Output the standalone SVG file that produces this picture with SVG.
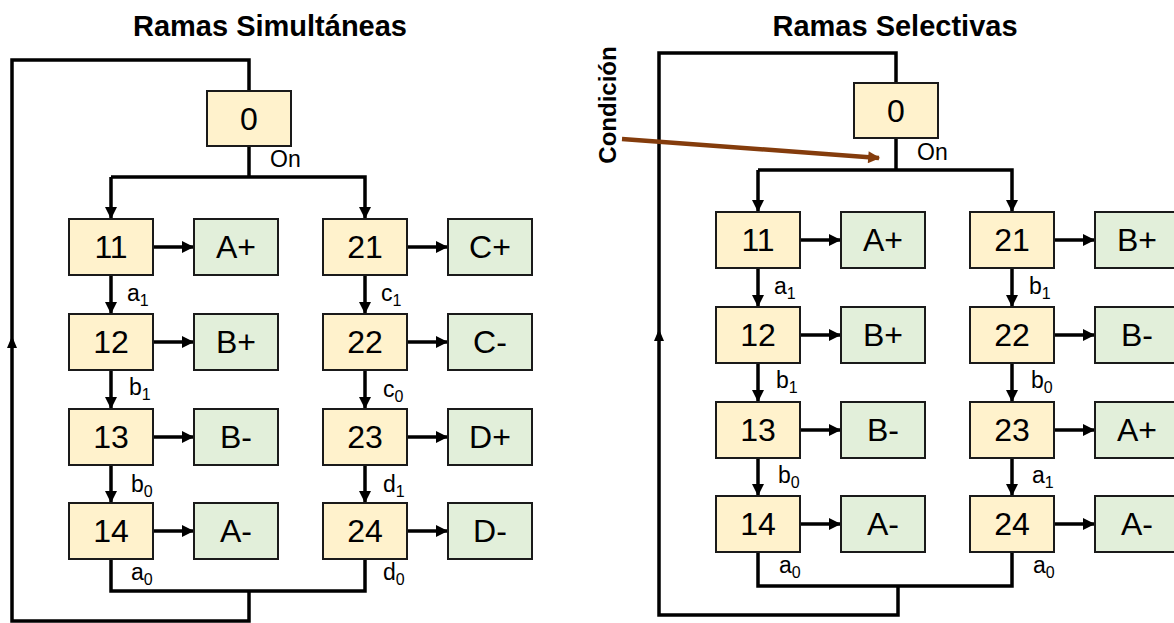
<svg xmlns="http://www.w3.org/2000/svg" width="1174" height="623" viewBox="0 0 1174 623">
<defs>
<style>
.st{fill:#FFF2CC;stroke:#1a1a1a;stroke-width:2}
.ac{fill:#E2EFDA;stroke:#1a1a1a;stroke-width:2}
.bt{font-family:"Liberation Sans",Arial,sans-serif;font-size:32px;text-anchor:middle;fill:#000}
.lb{font-family:"Liberation Sans",Arial,sans-serif;font-size:23px;fill:#000}
.sub{font-size:16px}
.ttl{font-family:"Liberation Sans",Arial,sans-serif;font-size:29px;font-weight:bold;text-anchor:middle;fill:#000}
.ln{fill:none;stroke:#000;stroke-width:3.5}
.ar{fill:none;stroke:#000;stroke-width:3.5;marker-end:url(#ah)}
</style>
<marker id="ah" markerUnits="userSpaceOnUse" viewBox="0 0 10 10" refX="10" refY="5" markerWidth="12" markerHeight="12" orient="auto">
<path d="M0,0 L10,5 L0,10 z" fill="#000"/>
</marker>
<marker id="ahb" markerUnits="userSpaceOnUse" viewBox="0 0 10 10" refX="9" refY="5" markerWidth="16" markerHeight="12" orient="auto">
<path d="M0,0 L10,5 L0,10 z" fill="#843C0C"/>
</marker>
</defs>
<rect width="1174" height="623" fill="#fff"/>

<text class="ttl" x="270" y="36">Ramas Simultáneas</text>
<text class="ttl" x="895" y="36">Ramas Selectivas</text>

<g id="connectors">
<!-- left diagram -->
<path class="ln" d="M249,91 V60 H12 V621 H249 V591"/>
<polygon points="12,336 7,348 17,348" fill="#000"/>
<path class="ln" d="M249,146 V177"/>
<path class="ar" d="M111,177 H365 V219"/>
<path class="ar" d="M111,177 V219"/>
<path class="ar" d="M111,275 V314"/>
<path class="ar" d="M111,370 V409"/>
<path class="ar" d="M111,465 V503"/>
<path class="ar" d="M365,275 V314"/>
<path class="ar" d="M365,370 V409"/>
<path class="ar" d="M365,465 V503"/>
<path class="ln" d="M111,559 V591 H365 V559"/>
<path class="ar" d="M153,247 H194"/>
<path class="ar" d="M153,342 H194"/>
<path class="ar" d="M153,437 H194"/>
<path class="ar" d="M153,531 H194"/>
<path class="ar" d="M407,247 H448"/>
<path class="ar" d="M407,342 H448"/>
<path class="ar" d="M407,437 H448"/>
<path class="ar" d="M407,531 H448"/>
<!-- right diagram -->
<path class="ln" d="M896,83 V53 H659 V615 H898 V586"/>
<polygon points="659,329 654,341 664,341" fill="#000"/>
<path class="ln" d="M896,138 V170"/>
<path class="ar" d="M758,170 H1012 V212"/>
<path class="ar" d="M758,170 V212"/>
<path class="ar" d="M758,268 V307"/>
<path class="ar" d="M758,363 V402"/>
<path class="ar" d="M758,458 V496"/>
<path class="ar" d="M1012,268 V307"/>
<path class="ar" d="M1012,363 V402"/>
<path class="ar" d="M1012,458 V496"/>
<path class="ln" d="M758,552 V586 H1012 V552"/>
<path class="ar" d="M800,240 H841"/>
<path class="ar" d="M800,335 H841"/>
<path class="ar" d="M800,430 H841"/>
<path class="ar" d="M800,524 H841"/>
<path class="ar" d="M1054,240 H1095"/>
<path class="ar" d="M1054,335 H1095"/>
<path class="ar" d="M1054,430 H1095"/>
<path class="ar" d="M1054,524 H1095"/>
<!-- condition arrow -->
<path d="M622,139 L879,158" fill="none" stroke="#843C0C" stroke-width="4.5" marker-end="url(#ahb)"/>
</g>

<g id="labels">
<text class="lb" x="270" y="167">On</text>
<text class="lb" x="127" y="301">a<tspan class="sub" dy="5">1</tspan></text>
<text class="lb" x="129" y="395">b<tspan class="sub" dy="5">1</tspan></text>
<text class="lb" x="131" y="492">b<tspan class="sub" dy="5">0</tspan></text>
<text class="lb" x="131" y="580">a<tspan class="sub" dy="5">0</tspan></text>
<text class="lb" x="381" y="301">c<tspan class="sub" dy="5">1</tspan></text>
<text class="lb" x="383" y="397">c<tspan class="sub" dy="5">0</tspan></text>
<text class="lb" x="383" y="492">d<tspan class="sub" dy="5">1</tspan></text>
<text class="lb" x="383" y="580">d<tspan class="sub" dy="5">0</tspan></text>
<text class="lb" x="917" y="160">On</text>
<text class="lb" x="774" y="294">a<tspan class="sub" dy="5">1</tspan></text>
<text class="lb" x="776" y="388">b<tspan class="sub" dy="5">1</tspan></text>
<text class="lb" x="778" y="483">b<tspan class="sub" dy="5">0</tspan></text>
<text class="lb" x="779" y="573">a<tspan class="sub" dy="5">0</tspan></text>
<text class="lb" x="1029" y="294">b<tspan class="sub" dy="5">1</tspan></text>
<text class="lb" x="1031" y="388">b<tspan class="sub" dy="5">0</tspan></text>
<text class="lb" x="1032" y="483">a<tspan class="sub" dy="5">1</tspan></text>
<text class="lb" x="1033" y="573">a<tspan class="sub" dy="5">0</tspan></text>
<text transform="translate(616,105) rotate(-90)" font-family="'Liberation Sans',Arial,sans-serif" font-size="24" font-weight="bold" text-anchor="middle">Condición</text>
</g>

<!-- left nodes -->
<g id="L0"><rect class="st" x="207" y="91" width="84" height="55"/><text class="bt" x="249" y="130">0</text></g>
<g id="L11"><rect class="st" x="69" y="219" width="84" height="56"/><text class="bt" x="111" y="258">11</text></g>
<g id="L12"><rect class="st" x="69" y="314" width="84" height="56"/><text class="bt" x="111" y="353">12</text></g>
<g id="L13"><rect class="st" x="69" y="409" width="84" height="56"/><text class="bt" x="111" y="448">13</text></g>
<g id="L14"><rect class="st" x="69" y="503" width="84" height="56"/><text class="bt" x="111" y="542">14</text></g>
<g id="L21"><rect class="st" x="323" y="219" width="84" height="56"/><text class="bt" x="365" y="258">21</text></g>
<g id="L22"><rect class="st" x="323" y="314" width="84" height="56"/><text class="bt" x="365" y="353">22</text></g>
<g id="L23"><rect class="st" x="323" y="409" width="84" height="56"/><text class="bt" x="365" y="448">23</text></g>
<g id="L24"><rect class="st" x="323" y="503" width="84" height="56"/><text class="bt" x="365" y="542">24</text></g>
<g id="LA1"><rect class="ac" x="194" y="219" width="84" height="56"/><text class="bt" x="236" y="258">A+</text></g>
<g id="LA2"><rect class="ac" x="194" y="314" width="84" height="56"/><text class="bt" x="236" y="353">B+</text></g>
<g id="LA3"><rect class="ac" x="194" y="409" width="84" height="56"/><text class="bt" x="236" y="448">B-</text></g>
<g id="LA4"><rect class="ac" x="194" y="503" width="84" height="56"/><text class="bt" x="236" y="542">A-</text></g>
<g id="LC1"><rect class="ac" x="448" y="219" width="84" height="56"/><text class="bt" x="490" y="258">C+</text></g>
<g id="LC2"><rect class="ac" x="448" y="314" width="84" height="56"/><text class="bt" x="490" y="353">C-</text></g>
<g id="LC3"><rect class="ac" x="448" y="409" width="84" height="56"/><text class="bt" x="490" y="448">D+</text></g>
<g id="LC4"><rect class="ac" x="448" y="503" width="84" height="56"/><text class="bt" x="490" y="542">D-</text></g>

<!-- right nodes -->
<g id="R0"><rect class="st" x="854" y="83" width="84" height="55"/><text class="bt" x="896" y="122">0</text></g>
<g id="R11"><rect class="st" x="716" y="212" width="84" height="56"/><text class="bt" x="758" y="251">11</text></g>
<g id="R12"><rect class="st" x="716" y="307" width="84" height="56"/><text class="bt" x="758" y="346">12</text></g>
<g id="R13"><rect class="st" x="716" y="402" width="84" height="56"/><text class="bt" x="758" y="441">13</text></g>
<g id="R14"><rect class="st" x="716" y="496" width="84" height="56"/><text class="bt" x="758" y="535">14</text></g>
<g id="R21"><rect class="st" x="970" y="212" width="84" height="56"/><text class="bt" x="1012" y="251">21</text></g>
<g id="R22"><rect class="st" x="970" y="307" width="84" height="56"/><text class="bt" x="1012" y="346">22</text></g>
<g id="R23"><rect class="st" x="970" y="402" width="84" height="56"/><text class="bt" x="1012" y="441">23</text></g>
<g id="R24"><rect class="st" x="970" y="496" width="84" height="56"/><text class="bt" x="1012" y="535">24</text></g>
<g id="RA1"><rect class="ac" x="841" y="212" width="84" height="56"/><text class="bt" x="883" y="251">A+</text></g>
<g id="RA2"><rect class="ac" x="841" y="307" width="84" height="56"/><text class="bt" x="883" y="346">B+</text></g>
<g id="RA3"><rect class="ac" x="841" y="402" width="84" height="56"/><text class="bt" x="883" y="441">B-</text></g>
<g id="RA4"><rect class="ac" x="841" y="496" width="84" height="56"/><text class="bt" x="883" y="535">A-</text></g>
<g id="RB1"><rect class="ac" x="1095" y="212" width="84" height="56"/><text class="bt" x="1137" y="251">B+</text></g>
<g id="RB2"><rect class="ac" x="1095" y="307" width="84" height="56"/><text class="bt" x="1137" y="346">B-</text></g>
<g id="RB3"><rect class="ac" x="1095" y="402" width="84" height="56"/><text class="bt" x="1137" y="441">A+</text></g>
<g id="RB4"><rect class="ac" x="1095" y="496" width="84" height="56"/><text class="bt" x="1137" y="535">A-</text></g>
</svg>
